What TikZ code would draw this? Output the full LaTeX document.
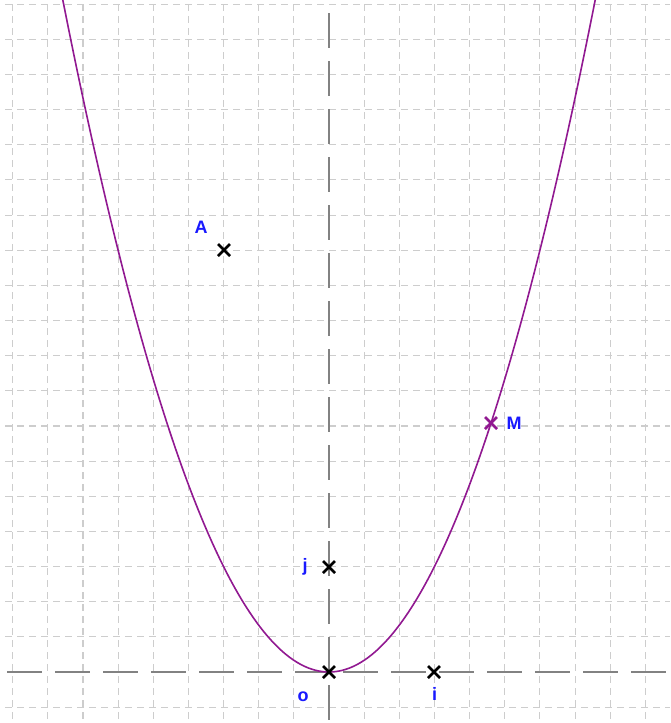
\documentclass[tikz,border=0pt]{standalone}
\usepackage{fontspec}
\setmainfont{Liberation Sans}
\definecolor{gridgray}{RGB}{205,205,205}
\definecolor{axisgray}{RGB}{130,130,130}
\definecolor{curvepurple}{RGB}{145,25,145}
\definecolor{labelblue}{RGB}{25,25,255}
\tikzset{
  gridline/.style={draw=gridgray, line width=1.1pt, dash pattern=on 7pt off 5pt},
  axisline/.style={draw=axisgray, line width=1.4pt, dash pattern=on 35pt off 13pt},
  curveline/.style={draw=curvepurple, line width=1.6pt},
  ptlabel/.style={text=labelblue, font=\fontsize{18}{21}\selectfont\bfseries, inner sep=0pt},
  pics/xmark/.style={code={\draw[line width=2.8pt, line cap=butt, #1] (-6,-6)--(6,6) (-6,6)--(6,-6);}},
}
\begin{document}
\begin{tikzpicture}[x=1pt,y=-1pt]
\useasboundingbox (0,0) rectangle (670,723);
\fill[white] (0,0) rectangle (670,723);
% grid
\foreach \k in {-9,...,-1,1,2,...,9} {
  \draw[gridline] ({329+35.15*\k},4) -- ({329+35.15*\k},723);
}
\foreach \k in {-1,1,2,...,19} {
  \draw[gridline] (5,{672-35.15*\k}) -- (670,{672-35.15*\k});
}
% points
\coordinate (O) at (329,672);
\coordinate (I) at (434,672);
\coordinate (J) at (329,567);
\coordinate (A) at (224,250);
\coordinate (M) at (491,423);
% axes
\coordinate (xl) at (7,672);
\coordinate (xr) at (670,672);
\coordinate (yt) at (329,13);
\coordinate (yb) at (329,723);
\draw[axisline] (xl) -- (xr);
\draw[axisline] (yt) -- (yb);
% parabola
\begin{scope}
\clip (0,0) rectangle (670,723);
\draw[curveline] plot[domain=-2.62:2.62, samples=150, smooth] ({329+105.45*\x},{672-105.45*\x*\x});
\end{scope}
% crosses
\pic at (O) {xmark=black};
\pic at (I) {xmark=black};
\pic at (J) {xmark=black};
\pic at (A) {xmark=black};
\pic at (M) {xmark=curvepurple};
% labels
\node[ptlabel] (lA) at (201,227) {A};
\node[ptlabel] (lM) at (514,423) {M};
\node[ptlabel] (lj) at (305,567) {j};
\node[ptlabel] (lo) at (303,697) {o};
\node[ptlabel] (li) at (434.5,694) {i};
\end{tikzpicture}
\end{document}
